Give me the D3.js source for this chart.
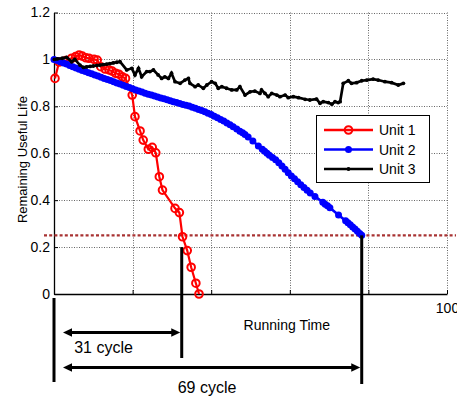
<!DOCTYPE html>
<html>
<head>
<meta charset="utf-8">
<script src="https://cdn.jsdelivr.net/npm/d3@7/dist/d3.min.js"></script>
<style>
  html, body { margin: 0; padding: 0; background: #fff; }
  svg { display: block; font-family: "Liberation Sans", Arial, sans-serif; }
</style>
</head>
<body>
<svg id="chart" width="457" height="397"></svg>
<script>
// ---- data ----
const seriesNames = ["Unit 1", "Unit 2", "Unit 3"];
const xTicks = [0, 20, 40, 60, 80, 100];
const xTickLabels = ["", "", "", "", "", "100"];
const yTicks = [0, 0.2, 0.4, 0.6, 0.8, 1.0, 1.2];
const yTickLabels = ["0", "0.2", "0.4", "0.6", "0.8", "1", "1.2"];
const xTitle = "Running Time";
const yTitle = "Remaining Useful Life";

const unit1Time = [0.25, 1.3, 3.0, 4.5, 5.5, 6.4, 7.2, 8.1, 8.9, 10.2, 11.0, 11.9, 13.0, 14.0, 14.8, 15.7, 16.5, 17.4, 18.2,
  19.9, 20.6, 21.9, 22.7, 24.0, 25.0, 25.9, 26.8, 27.6, 30.8, 31.9, 32.7, 33.9, 34.9, 36.1, 36.9];
const unit1Life = [0.919, 0.989, 0.995, 1.005, 1.012, 1.019, 1.014, 1.007, 1.005, 1.000, 0.997, 0.969, 0.959, 0.955, 0.950, 0.941, 0.937, 0.926, 0.919,
  0.848, 0.756, 0.695, 0.656, 0.617, 0.625, 0.602, 0.500, 0.443, 0.365, 0.347, 0.244, 0.185, 0.114, 0.046, 0.000];

const unit2Time = [0, 0.8, 1.6, 2.4, 3.2, 4.0, 4.8, 5.6, 6.4, 7.2, 8.0, 8.8, 9.6, 10.4, 11.2, 12.0, 12.8, 13.6, 14.4, 15.2,
  16.0, 16.8, 17.6, 18.4, 19.2, 20.0, 20.8, 21.6, 22.4, 23.2, 24.0, 24.8, 25.6, 26.4, 27.2, 28.0, 28.8, 29.6, 30.4, 31.2,
  32.0, 32.8, 33.6, 34.4, 35.2, 36.0, 36.8, 37.6, 38.4, 39.2, 40.0, 40.8, 41.6, 42.4, 43.2, 44.0, 44.8, 45.6, 46.5, 47.3,
  48.0, 48.6, 49.4, 50.6, 52.0, 53.0, 53.6, 54.2, 54.8, 55.6, 56.4, 57.2, 58.0, 58.8, 59.6, 60.4, 61.2, 62.0, 62.8, 63.6,
  64.4, 65.2, 66.4, 68.4, 69.0, 69.6, 70.2, 72.4, 74.2, 74.8, 75.4, 76.0, 76.6, 77.2, 77.8, 78.3];
const unit2Life = [1.000, 0.995, 0.990, 0.985, 0.980, 0.974, 0.969, 0.963, 0.958, 0.953, 0.948, 0.943, 0.939, 0.934, 0.929, 0.924, 0.919, 0.914, 0.910, 0.905,
  0.900, 0.895, 0.890, 0.885, 0.880, 0.875, 0.870, 0.865, 0.861, 0.856, 0.852, 0.848, 0.844, 0.840, 0.836, 0.832, 0.828, 0.824, 0.820, 0.816,
  0.812, 0.808, 0.805, 0.801, 0.796, 0.792, 0.787, 0.782, 0.777, 0.771, 0.765, 0.758, 0.751, 0.744, 0.737, 0.729, 0.722, 0.713, 0.703, 0.694,
  0.687, 0.680, 0.669, 0.652, 0.631, 0.617, 0.608, 0.600, 0.592, 0.582, 0.572, 0.560, 0.546, 0.532, 0.517, 0.503, 0.491, 0.478, 0.466, 0.454,
  0.442, 0.431, 0.416, 0.391, 0.383, 0.376, 0.368, 0.337, 0.312, 0.304, 0.295, 0.286, 0.277, 0.268, 0.258, 0.250];

const unit3Time = [0.1, 0.8, 2.1, 3.2, 4.5, 5.3, 6.6, 7.5, 8.3, 9.2, 10.0, 10.9, 11.7, 12.5, 13.4, 14.2, 15.1, 16.0, 16.8, 18.5,
  19.8, 20.6, 21.5, 22.3, 23.6, 24.4, 25.3, 26.5, 27.4, 28.2, 29.1, 29.9, 30.8, 32.1, 33.3, 34.2, 34.6, 35.9, 36.7, 38.0,
  38.9, 40.1, 41.0, 41.8, 42.7, 43.9, 45.2, 46.5, 47.3, 48.6, 49.9, 51.1, 52.4, 52.8, 53.7, 54.5, 55.4, 56.7, 57.5, 58.8,
  59.6, 60.9, 62.2, 63.9, 65.1, 66.8, 67.7, 68.5, 69.8, 70.7, 71.5, 72.3, 72.8, 73.6, 74.9, 75.7, 77.0, 78.3, 79.6, 81.2,
  82.5, 84.2, 85.9, 87.6, 88.9];
const unit3Life = [1.000, 1.002, 1.005, 1.009, 0.990, 1.000, 0.976, 0.966, 0.968, 0.970, 0.972, 0.974, 0.976, 0.978, 0.980, 0.982, 0.985, 0.988, 0.990, 0.955,
  0.962, 0.934, 0.962, 0.926, 0.948, 0.948, 0.955, 0.934, 0.919, 0.926, 0.919, 0.941, 0.905, 0.898, 0.912, 0.919, 0.898, 0.884, 0.891, 0.877,
  0.891, 0.905, 0.898, 0.877, 0.884, 0.877, 0.870, 0.870, 0.884, 0.848, 0.862, 0.865, 0.855, 0.870, 0.855, 0.841, 0.855, 0.848, 0.841, 0.848,
  0.837, 0.841, 0.837, 0.830, 0.827, 0.831, 0.813, 0.820, 0.816, 0.809, 0.820, 0.816, 0.820, 0.898, 0.909, 0.898, 0.901, 0.909, 0.912, 0.916,
  0.912, 0.905, 0.901, 0.891, 0.898];

// failure threshold and the times where units 1 and 2 reach it
const threshold = 0.25;
const failTimes = [32.5, 78.3];
const failLife = [0.2, 0.25];
const cycleLabels = ["31 cycle", "69 cycle"];

// ---- layout ----
const svg = d3.select("#chart");
const x = d3.scaleLinear().domain([0, 100]).range([54, 447]);
const y = d3.scaleLinear().domain([0, 1.2]).range([294, 12.5]);
const font = "Liberation Sans, Arial, sans-serif";

// grid
const grid = svg.append("g").attr("stroke", "#666").attr("stroke-width", 1).attr("stroke-dasharray", "1,1.5");
grid.selectAll("line.v").data(xTicks.slice(1)).join("line")
  .attr("x1", d => Math.round(x(d)) + 0.5).attr("x2", d => Math.round(x(d)) + 0.5)
  .attr("y1", y(1.2)).attr("y2", y(0));
grid.selectAll("line.h").data(yTicks.slice(1)).join("line")
  .attr("x1", x(0)).attr("x2", x(100))
  .attr("y1", d => Math.round(y(d)) + 0.5).attr("y2", d => Math.round(y(d)) + 0.5);

// axes
const yAxis = d3.axisLeft(y).tickValues(yTicks).tickSize(-4).tickSizeOuter(0).tickPadding(4)
  .tickFormat((d, i) => yTickLabels[i]);
const gy = svg.append("g").attr("transform", `translate(${x(0)},0)`).call(yAxis);
const xAxis = d3.axisBottom(x).tickValues(xTicks).tickSize(-4).tickSizeOuter(0).tickPadding(9)
  .tickFormat((d, i) => xTickLabels[i]);
const gx = svg.append("g").attr("transform", `translate(0,${y(0)})`).call(xAxis);
[gx, gy].forEach(g => {
  g.select(".domain").attr("stroke", "#000").attr("stroke-width", 1.3);
  g.selectAll(".tick line").attr("stroke", "#000");
  g.selectAll(".tick text").attr("font-family", font).attr("font-size", 14).attr("fill", "#000");
});

// threshold line
svg.append("line")
  .attr("x1", 44).attr("x2", 456)
  .attr("y1", y(threshold)).attr("y2", y(threshold))
  .attr("stroke", "#a83232").attr("stroke-width", 2.2).attr("stroke-dasharray", "3,2.2");

// series
const line = d3.line().x(d => x(d[0])).y(d => y(d[1]));
const u1 = unit1Time.map((t, i) => [t, unit1Life[i]]);
const u2 = unit2Time.map((t, i) => [t, unit2Life[i]]);
const u3 = unit3Time.map((t, i) => [t, unit3Life[i]]);

svg.append("path").datum(u1).attr("d", line).attr("fill", "none").attr("stroke", "#ff0000").attr("stroke-width", 2.2);
svg.append("g").selectAll("circle").data(u1).join("circle")
  .attr("cx", d => x(d[0])).attr("cy", d => y(d[1])).attr("r", 3.8)
  .attr("fill", "none").attr("stroke", "#ff0000").attr("stroke-width", 2);

svg.append("path").datum(u2).attr("d", line).attr("fill", "none").attr("stroke", "#0000ff").attr("stroke-width", 2.6);
svg.append("g").selectAll("circle").data(u2).join("circle")
  .attr("cx", d => x(d[0])).attr("cy", d => y(d[1])).attr("r", 3.5).attr("fill", "#0000ff");

svg.append("path").datum(u3).attr("d", line).attr("fill", "none").attr("stroke", "#000").attr("stroke-width", 2.7);
svg.append("g").selectAll("circle").data(u3).join("circle")
  .attr("cx", d => x(d[0])).attr("cy", d => y(d[1])).attr("r", 1.9).attr("fill", "#000");

// legend
const legend = svg.append("g");
legend.append("rect").attr("x", 316.5).attr("y", 115.5).attr("width", 113).attr("height", 67)
  .attr("fill", "#fff").attr("stroke", "#000").attr("stroke-width", 1);
const legendRows = [130, 149.5, 169];
const colors = ["#ff0000", "#0000ff", "#000"];
seriesNames.forEach((name, i) => {
  const ly = legendRows[i];
  legend.append("line").attr("x1", 324).attr("x2", 373).attr("y1", ly).attr("y2", ly)
    .attr("stroke", colors[i]).attr("stroke-width", 2.6);
  if (i === 0) {
    legend.append("circle").attr("cx", 348.5).attr("cy", ly).attr("r", 3.8)
      .attr("fill", "none").attr("stroke", colors[i]).attr("stroke-width", 2);
  } else {
    legend.append("circle").attr("cx", 348.5).attr("cy", ly).attr("r", i === 1 ? 3.5 : 1.9).attr("fill", colors[i]);
  }
  legend.append("text").attr("x", 379).attr("y", ly + 5).attr("font-family", font).attr("font-size", 14)
    .attr("fill", "#000").text(name);
});

// axis titles
svg.append("text").attr("x", x(60) - 3).attr("y", 330).attr("text-anchor", "middle")
  .attr("font-family", font).attr("font-size", 14).text(xTitle);
svg.append("text").attr("transform", "translate(26.5,159.5) rotate(-90)").attr("text-anchor", "middle")
  .attr("font-family", font).attr("font-size", 13).text(yTitle);

// cycle annotations
const ann = svg.append("g").attr("stroke", "#000").attr("stroke-width", 3);
ann.append("line").attr("x1", x(0)).attr("x2", x(0)).attr("y1", 298).attr("y2", 382);
const vBottoms = [358, 384];
const arrowY = [332.5, 367.5];
const labelY = [353, 393];
const labelX = [103.5, 207];
failTimes.forEach((t, i) => {
  const fx = x(t);
  ann.append("line").attr("x1", fx).attr("x2", fx).attr("y1", y(failLife[i])).attr("y2", vBottoms[i]);
  const x0 = x(0) + 9, x1 = fx - 1.5, ay = arrowY[i];
  ann.append("line").attr("x1", x0 + 6).attr("x2", x1 - 6).attr("y1", ay).attr("y2", ay).attr("stroke-width", 2.8);
  svg.append("path").attr("fill", "#000")
    .attr("d", `M${x0},${ay} L${x0 + 9},${ay - 4.2} L${x0 + 9},${ay + 4.2} Z`);
  svg.append("path").attr("fill", "#000")
    .attr("d", `M${x1},${ay} L${x1 - 9},${ay - 4.2} L${x1 - 9},${ay + 4.2} Z`);
  svg.append("text").attr("x", labelX[i]).attr("y", labelY[i]).attr("text-anchor", "middle")
    .attr("font-family", font).attr("font-size", 16).attr("fill", "#000").text(cycleLabels[i]);
});
</script>
</body>
</html>
